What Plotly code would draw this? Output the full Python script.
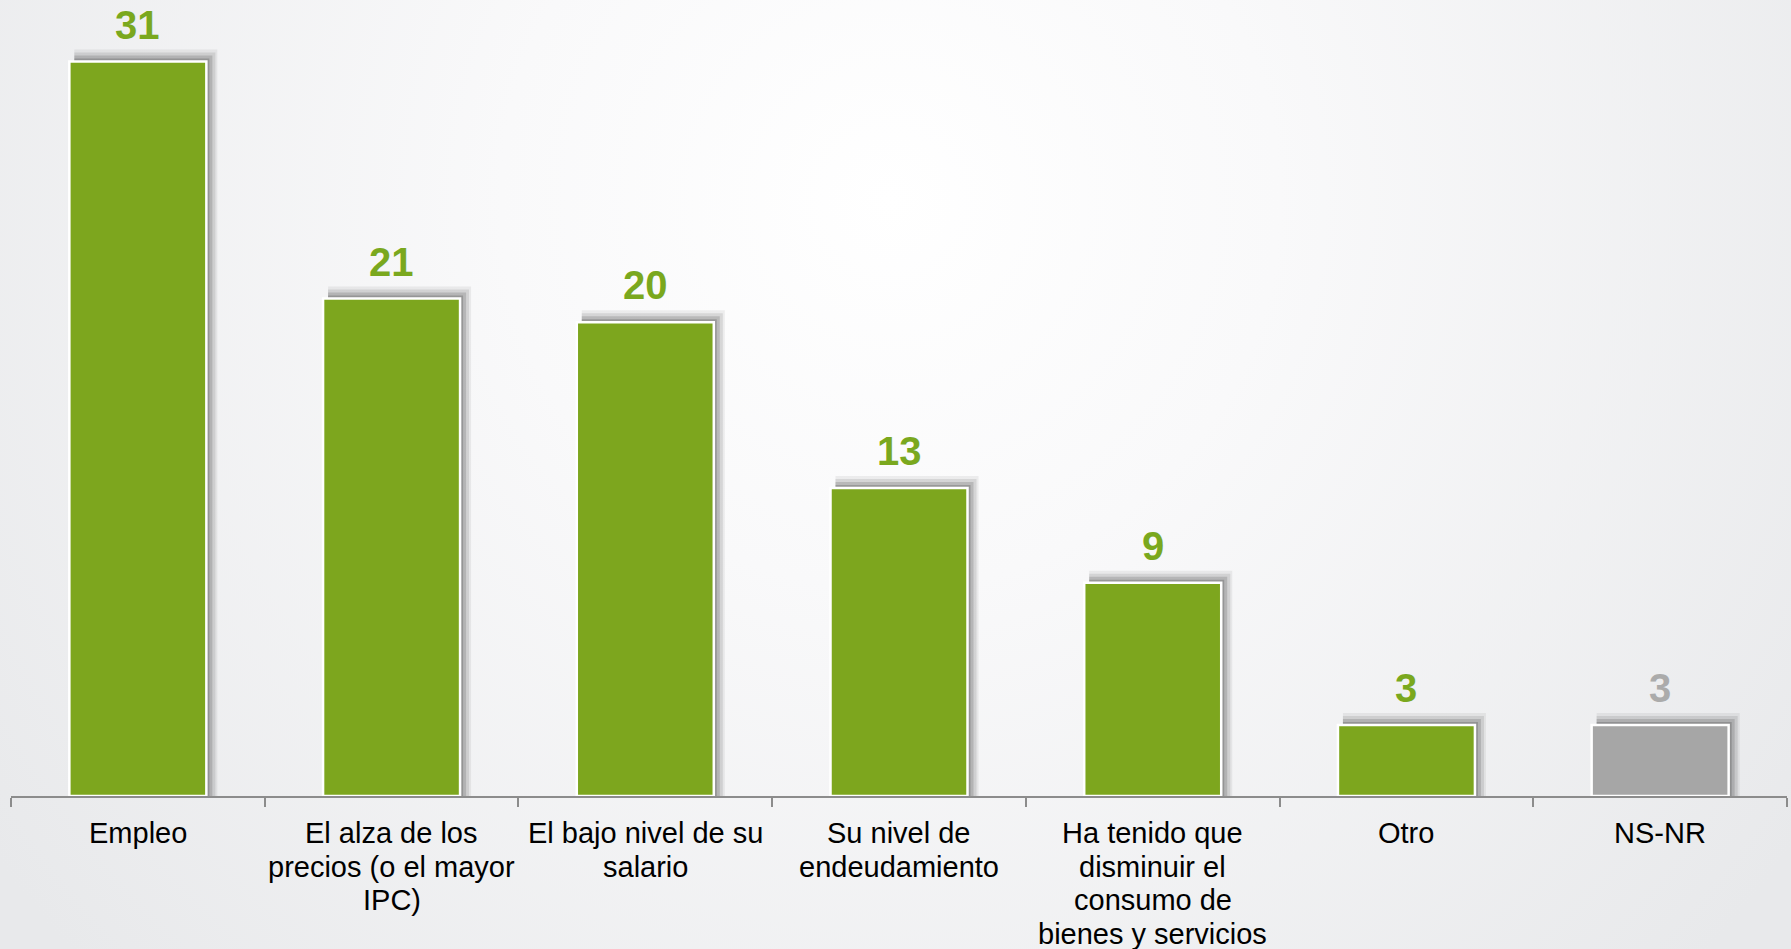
import base64
import plotly.graph_objects as go

categories = ["Empleo", "El alza", "El bajo nivel", "Su nivel", "Ha tenido que", "Otro", "NS-NR"]
category_labels = [
    ["Empleo"],
    ["El alza de los", "precios (o el mayor", "IPC)"],
    ["El bajo nivel de su", "salario"],
    ["Su nivel de", "endeudamiento"],
    ["Ha tenido que", "disminuir el", "consumo de", "bienes y servicios"],
    ["Otro"],
    ["NS-NR"],
]
values = [31, 21, 20, 13, 9, 3, 3]
bar_colors = ["#7DA61E", "#7DA61E", "#7DA61E", "#7DA61E", "#7DA61E", "#7DA61E", "#A6A6A6"]
label_colors = ["#7AA81E", "#7AA81E", "#7AA81E", "#7AA81E", "#7AA81E", "#7AA81E", "#ABABAB"]

W, H = 1791, 949
ML, MR, MT, MB = 11, 4, 0, 153
PW, PH = W - ML - MR, H - MT - MB
YMAX = 33.6
px_per_unit = PH / YMAX
px_per_cat = PW / len(categories)

svg = f'''<svg xmlns="http://www.w3.org/2000/svg" width="{W}" height="{H}">
<defs><radialGradient id="g" cx="{890/W}" cy="{200/H}" r="0.62" gradientTransform="translate({890/W},{200/H}) scale(1,{W/H}) translate({-890/W},{-200/H})">
<stop offset="0" stop-color="#FFFFFF"/><stop offset="0.35" stop-color="#F9F9FA"/><stop offset="1" stop-color="#E8E9EB"/>
</radialGradient></defs>
<rect width="{W}" height="{H}" fill="#E8E9EB"/>
<rect width="{W}" height="{H}" fill="url(#g)"/></svg>'''
bg_uri = "data:image/svg+xml;base64," + base64.b64encode(svg.encode()).decode()

fig = go.Figure()

bar_width = 0.54
# soft shadow layers: (extra height px, extra right px, alpha)
shadow_layers = [(12, 11, 0.07), (9, 9, 0.11), (6, 6, 0.17), (3, 3, 0.22)]
left_shift = 5 / px_per_cat
for up_px, right_px, alpha in shadow_layers:
    fig.add_trace(go.Bar(
        x=categories, y=[v + up_px / px_per_unit for v in values],
        width=bar_width + right_px / px_per_cat - left_shift,
        offset=-bar_width / 2 + left_shift,
        marker=dict(color=f"rgba(40,40,40,{alpha})", line=dict(width=0)),
        hoverinfo="skip", showlegend=False,
    ))

fig.add_trace(go.Bar(
    x=categories, y=values, width=bar_width,
    marker=dict(color=bar_colors, line=dict(color="#FFFFFF", width=2.5)),
    showlegend=False,
))

for c, v, col in zip(categories, values, label_colors):
    fig.add_annotation(
        x=c, y=v, text=f"<b>{v}</b>", showarrow=False,
        yanchor="bottom", yshift=13,
        font=dict(family="Liberation Sans, Arial", size=40, color=col),
    )

# category labels, one line each (tight line spacing as in the reference)
for c, lines in zip(categories, category_labels):
    for i, line in enumerate(lines):
        fig.add_annotation(
            x=c, y=0, text=line, showarrow=False,
            yanchor="middle", yshift=-(37 + i * 33.6),
            font=dict(family="Liberation Sans, Arial", size=29, color="#000000"),
        )

fig.add_layout_image(
    source=bg_uri, xref="paper", yref="paper",
    x=-ML / PW, y=1 + MT / PH, sizex=W / PW, sizey=H / PH,
    xanchor="left", yanchor="top", sizing="stretch", layer="below",
)

fig.update_layout(
    width=W, height=H,
    margin=dict(l=ML, r=MR, t=MT, b=MB, autoexpand=False),
    paper_bgcolor="#E8E9EB", plot_bgcolor="rgba(0,0,0,0)",
    barmode="overlay", bargap=0.46,
    font=dict(family="Liberation Sans, Arial", size=29, color="#000000"),
)
fig.update_xaxes(
    showline=True, linecolor="#8C8C8C", linewidth=2,
    ticks="outside", tickson="boundaries", ticklen=9, tickcolor="#8C8C8C", tickwidth=2,
    showgrid=False, showticklabels=False, automargin=False,
)
fig.update_yaxes(range=[0, YMAX], visible=False, showgrid=False, automargin=False)

fig.write_html(
    "out.html",
    config={"displayModeBar": False},
    post_script="document.body.style.margin='0';document.body.style.background='#E8E9EB';document.body.style.overflow='hidden';",
)
